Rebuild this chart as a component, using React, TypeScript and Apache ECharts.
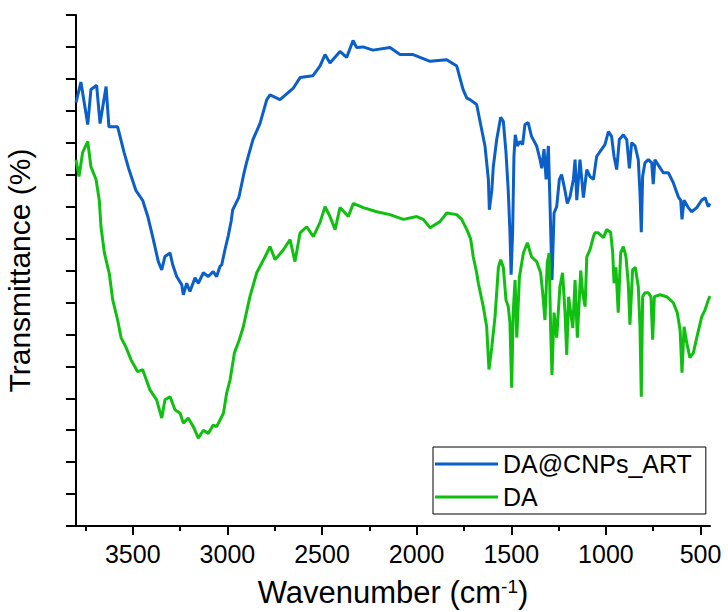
import React, { useEffect, useRef } from "react";
import * as echarts from "echarts";

const seriesNames = ["DA@CNPs_ART", "DA"];

// [wavenumber (cm-1), transmittance (arbitrary, offset)]
const daCnpsArt: number[][] = [
  [3800, 13.26], [3774, 13.9], [3738, 12.57], [3721, 13.67], [3691, 13.8], [3673, 12.6], [3641, 13.76],
  [3626, 12.5], [3580, 12.5], [3546, 11.7], [3520, 11.16], [3483, 10.5], [3448, 10.2], [3421, 9.7],
  [3395, 9.06], [3365, 8.28], [3347, 8.02], [3330, 8.44], [3303, 8.55], [3289, 8.18], [3268, 7.81],
  [3241, 7.55], [3233, 7.24], [3215, 7.6], [3198, 7.34], [3171, 7.77], [3154, 7.6], [3127, 7.93],
  [3101, 7.81], [3075, 7.97], [3057, 7.81], [3039, 8.13], [3030, 8.18], [3013, 8.65], [2995, 9.1],
  [2980, 9.55], [2972, 9.9], [2939, 10.3],
  [2912, 11.06], [2898, 11.4], [2865, 12.1], [2828, 12.6], [2792, 13.35], [2775, 13.5], [2722, 13.35],
  [2653, 13.7], [2616, 14.04], [2548, 14.1], [2511, 14.4], [2484, 14.76], [2458, 14.5], [2405, 14.86],
  [2370, 14.67], [2336, 15.2], [2317, 14.98], [2283, 15.0], [2231, 14.9], [2141, 14.98], [2088, 14.76],
  [2019, 14.76], [1929, 14.55], [1841, 14.6], [1788, 14.4], [1755, 13.67], [1735, 13.4], [1718, 13.35],
  [1683, 13.2], [1656, 12.4], [1639, 11.9], [1621, 10.85], [1616, 9.9], [1603, 10.5], [1595, 11.25],
  [1577, 12.1], [1556, 12.8], [1542, 12.67], [1528, 11.7], [1516, 10.5], [1507, 9.18], [1501, 7.87],
  [1493, 9.18], [1486, 11.57], [1479, 12.25], [1468, 11.9], [1454, 12.04], [1440, 11.94], [1428, 12.57],
  [1411, 12.63], [1393, 12.2], [1366, 11.9], [1348, 11.47], [1339, 11.2], [1327, 11.8], [1316, 10.85],
  [1304, 11.9], [1295, 10.0], [1285, 7.7], [1274, 9.8], [1260, 10.0], [1246, 10.85], [1234, 11.0],
  [1216, 10.5], [1204, 10.1], [1190, 10.3], [1172, 10.85], [1163, 11.47], [1154, 10.2], [1137, 11.47],
  [1119, 10.28], [1101, 11.16], [1084, 10.94], [1066, 10.85], [1049, 11.57], [1022, 11.8], [1005, 11.94],
  [987, 12.35], [970, 12.2], [957, 11.57], [943, 11.16], [929, 12.1], [908, 12.25], [890, 12.1],
  [876, 11.2], [864, 12.0], [846, 11.9], [829, 11.47], [820, 10.44], [813, 9.2], [806, 10.94],
  [794, 11.37], [776, 11.47], [758, 11.37], [750, 10.7], [741, 11.47], [723, 11.3], [697, 11.06],
  [670, 11.06], [644, 10.75], [617, 10.3], [605, 10.2], [598, 9.6], [587, 10.2], [565, 9.97],
  [547, 9.84], [520, 9.97], [494, 10.2], [476, 10.28], [459, 10.0], [450, 10.1],
];

const da: number[][] = [
  [3800, 11.47], [3784, 10.94], [3765, 11.7], [3738, 12.04], [3721, 11.25], [3694, 10.85], [3677, 10.2],
  [3668, 9.37], [3650, 8.55], [3624, 7.9], [3606, 7.08], [3580, 6.45], [3562, 5.9], [3536, 5.6],
  [3509, 5.2], [3474, 4.83], [3448, 4.9], [3409, 4.26], [3374, 3.95], [3347, 3.38], [3330, 3.95],
  [3303, 4.05], [3277, 3.64], [3250, 3.53], [3233, 3.22], [3207, 3.38], [3180, 3.11], [3154, 2.75],
  [3127, 3.0], [3101, 2.9], [3075, 3.16], [3057, 3.11], [3039, 3.32], [3021, 3.53], [3004, 4.16],
  [2986, 4.57], [2963, 5.42], [2937, 5.83], [2916, 6.24], [2881, 7.18],
  [2845, 7.93], [2801, 8.43], [2775, 8.75], [2748, 8.34], [2704, 8.65], [2669, 8.97], [2643, 8.28],
  [2616, 9.18], [2581, 9.37], [2546, 9.06], [2511, 9.5], [2484, 10.0], [2458, 9.69], [2431, 9.28],
  [2405, 9.97], [2361, 9.69], [2335, 10.1], [2282, 9.97], [2211, 9.84], [2141, 9.75], [2070, 9.6],
  [2000, 9.69], [1965, 9.6], [1929, 9.34], [1877, 9.53], [1841, 9.8], [1788, 9.75], [1762, 9.6],
  [1735, 9.28], [1715, 9.0], [1701, 8.43], [1683, 7.93], [1674, 7.6], [1648, 6.87], [1630, 6.24],
  [1618, 4.9], [1603, 5.6], [1586, 6.55], [1568, 8.1], [1556, 8.34], [1542, 8.1], [1528, 7.08],
  [1516, 6.87], [1507, 6.36], [1498, 4.33], [1490, 6.68], [1480, 7.7], [1471, 5.9], [1457, 7.8],
  [1436, 8.55], [1415, 8.87], [1393, 8.43], [1366, 8.28], [1345, 7.93], [1334, 7.3], [1322, 6.45],
  [1310, 8.24], [1300, 8.55], [1292, 6.14], [1285, 4.73], [1274, 6.68], [1260, 5.9], [1243, 7.5],
  [1229, 7.93], [1216, 6.68], [1207, 5.36], [1197, 7.18], [1186, 6.68], [1175, 6.2], [1163, 7.7],
  [1151, 5.9], [1133, 8.0], [1123, 7.3], [1110, 6.87], [1101, 8.43], [1084, 8.65], [1066, 9.06],
  [1058, 9.18], [1040, 9.18], [1013, 9.03], [996, 9.28], [975, 9.2], [964, 8.55], [957, 7.6],
  [947, 8.1], [935, 6.68], [922, 8.55], [908, 8.75], [894, 8.43], [882, 7.6], [873, 6.3],
  [859, 8.02], [845, 8.1], [829, 7.5], [820, 6.24], [813, 4.05], [806, 7.18], [794, 7.3],
  [776, 7.3], [762, 7.18], [753, 5.83], [744, 7.18], [714, 7.24], [679, 7.18], [644, 6.99],
  [623, 6.68], [608, 6.14], [598, 4.8], [587, 6.24], [573, 5.74], [556, 5.27], [538, 5.42],
  [520, 5.9], [494, 6.55], [476, 6.77], [459, 7.08], [450, 7.2],
];

const xMajorTicks = [500, 1000, 1500, 2000, 2500, 3000, 3500];
const xMinorTicks = [750, 1250, 1750, 2250, 2750, 3250, 3750];

const FONT = "'Liberation Sans', Arial, sans-serif";

export default function App() {
  const ref = useRef<HTMLDivElement>(null);
  useEffect(() => {
    if (!ref.current) return;
    const chart = echarts.init(ref.current, undefined, { renderer: "svg" });
    chart.setOption({
      animation: false,
      backgroundColor: "#fff",
      grid: { left: 76, right: 18, top: 15, bottom: 86, containLabel: false, outerBoundsMode: "none" },
      legend: {
        data: seriesNames,
        orient: "vertical",
        left: 433,
        top: 447,
        icon: "rect",
        itemWidth: 63,
        itemHeight: 3,
        itemGap: 7,
        padding: [4, 14, 4, 2],
        borderColor: "#000",
        borderWidth: 1,
        backgroundColor: "#fff",
        textStyle: { fontSize: 25, color: "#000", fontFamily: FONT, lineHeight: 26 },
      },
      xAxis: [
        {
          type: "value",
          min: 450,
          max: 3800,
          inverse: true,
          position: "bottom",
          axisLine: { show: true, lineStyle: { color: "#000", width: 2 } },
          axisTick: { show: true, customValues: xMajorTicks, length: 9, lineStyle: { color: "#000", width: 2 } },
          axisLabel: {
            customValues: xMajorTicks,
            fontSize: 25,
            color: "#000",
            fontFamily: FONT,
            margin: 15,
            formatter: (v: number) => String(v),
          },
          splitLine: { show: false },
          name: "Wavenumber (cm{sup|-1})",
          nameLocation: "middle",
          nameGap: 51,
          nameTextStyle: {
            fontSize: 31,
            color: "#000",
            fontFamily: FONT,
            rich: { sup: { fontSize: 19, verticalAlign: "top", color: "#000", fontFamily: FONT } },
          },
        },
        {
          type: "value",
          min: 450,
          max: 3800,
          inverse: true,
          position: "bottom",
          axisLine: { show: false },
          axisTick: { show: true, customValues: xMinorTicks, length: 5, lineStyle: { color: "#000", width: 2 } },
          axisLabel: { show: false },
          splitLine: { show: false },
        },
      ],
      yAxis: {
        type: "value",
        min: 0,
        max: 16,
        interval: 1,
        axisLine: { show: true, lineStyle: { color: "#000", width: 2 } },
        axisTick: { show: true, length: 10, lineStyle: { color: "#000", width: 2 } },
        axisLabel: { show: false },
        splitLine: { show: false },
        name: "Transmittance (%)",
        nameLocation: "middle",
        nameGap: 42,
        nameTextStyle: { fontSize: 30, color: "#000", fontFamily: FONT },
      },
      series: [
        {
          name: seriesNames[0],
          type: "line",
          xAxisIndex: 0,
          data: daCnpsArt,
          showSymbol: false,
          symbol: "none",
          color: "#0a5fc8",
          lineStyle: { width: 3, color: "#0a5fc8" },
        },
        {
          name: seriesNames[1],
          type: "line",
          xAxisIndex: 0,
          data: da,
          showSymbol: false,
          symbol: "none",
          color: "#10c010",
          lineStyle: { width: 3, color: "#10c010" },
        },
      ],
    });
    return () => chart.dispose();
  }, []);
  return (
    <div
      ref={ref}
      style={{ position: "fixed", left: 0, top: 0, width: 728, height: 612, background: "#fff" }}
    />
  );
}
